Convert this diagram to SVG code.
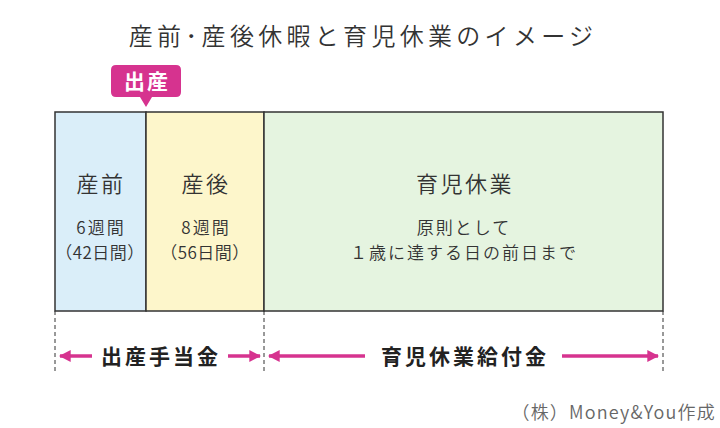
<svg xmlns="http://www.w3.org/2000/svg" width="720" height="428" viewBox="0 0 720 428">
<style>
text{font-family:"Noto Sans CJK JP","Noto Sans",sans-serif;fill:#333;font-weight:350}
.t{font-size:24px;letter-spacing:4.3px}
.h{font-size:22px;letter-spacing:2.5px}
.s{font-size:17px;letter-spacing:2px}
.p{font-size:17px;letter-spacing:0.5px}
.b{font-size:21px;font-weight:bold;fill:#222;letter-spacing:3px}
.box{stroke:#333;stroke-width:1.5}
.dash{stroke:#333;stroke-width:1;stroke-dasharray:4 3}
.arr{stroke:#d6338f;stroke-width:3.5;fill:none}
</style>
<defs>
<marker id="ah" viewBox="0 0 10 10" refX="9" refY="5" markerWidth="3.4" markerHeight="3.4" orient="auto-start-reverse" markerUnits="strokeWidth">
<path d="M0,0 L10,5 L0,10 Z" fill="#d6338f"/>
</marker>
</defs>
<text class="t" x="363" y="45" text-anchor="middle">産前･産後休暇と育児休業のイメージ</text>
<g id="callout">
<path d="M116,65 H176 Q181,65 181,70 V92 Q181,97 176,97 H152 L146,107 L140,97 H116 Q111,97 111,92 V70 Q111,65 116,65 Z" fill="#d6338f"/>
<text x="147" y="89" text-anchor="middle" style="font-size:21px;font-weight:bold;fill:#fff;letter-spacing:2px">出産</text>
</g>
<g id="prenatal">
<rect class="box" x="55" y="112" width="91" height="199" fill="#daeef9"/>
<text class="h" x="101" y="192" text-anchor="middle">産前</text>
<text class="s" x="101" y="234" text-anchor="middle">6週間</text>
<text class="p" x="100" y="259" text-anchor="middle">（42日間）</text>
</g>
<g id="postnatal">
<rect class="box" x="146" y="112" width="118" height="199" fill="#fdf6cb"/>
<text class="h" x="206" y="192" text-anchor="middle">産後</text>
<text class="s" x="206" y="234" text-anchor="middle">8週間</text>
<text class="p" x="205" y="259" text-anchor="middle">（56日間）</text>
</g>
<g id="childcare">
<rect class="box" x="264" y="112" width="399" height="199" fill="#e5f4e0"/>
<text class="h" x="465" y="192" text-anchor="middle">育児休業</text>
<text class="s" x="464" y="234" text-anchor="middle">原則として</text>
<text class="s" x="464" y="259" text-anchor="middle">１歳に達する日の前日まで</text>
</g>
<g id="connectors">
<line class="dash" x1="55" y1="311" x2="55" y2="372"/>
<line class="dash" x1="264" y1="311" x2="264" y2="372"/>
<line class="dash" x1="663" y1="311" x2="663" y2="372"/>
<line class="arr" x1="92" y1="356" x2="60" y2="356" marker-end="url(#ah)"/>
<line class="arr" x1="228" y1="356" x2="260" y2="356" marker-end="url(#ah)"/>
<line class="arr" x1="365" y1="356" x2="269" y2="356" marker-end="url(#ah)"/>
<line class="arr" x1="562" y1="356" x2="658" y2="356" marker-end="url(#ah)"/>
</g>
<text class="b" x="161" y="364" text-anchor="middle">出産手当金</text>
<text class="b" x="465" y="364" text-anchor="middle">育児休業給付金</text>
<text x="716" y="419" text-anchor="end" style="font-size:18px;fill:#666;letter-spacing:1.2px">（株）Money&amp;You作成</text>
</svg>
